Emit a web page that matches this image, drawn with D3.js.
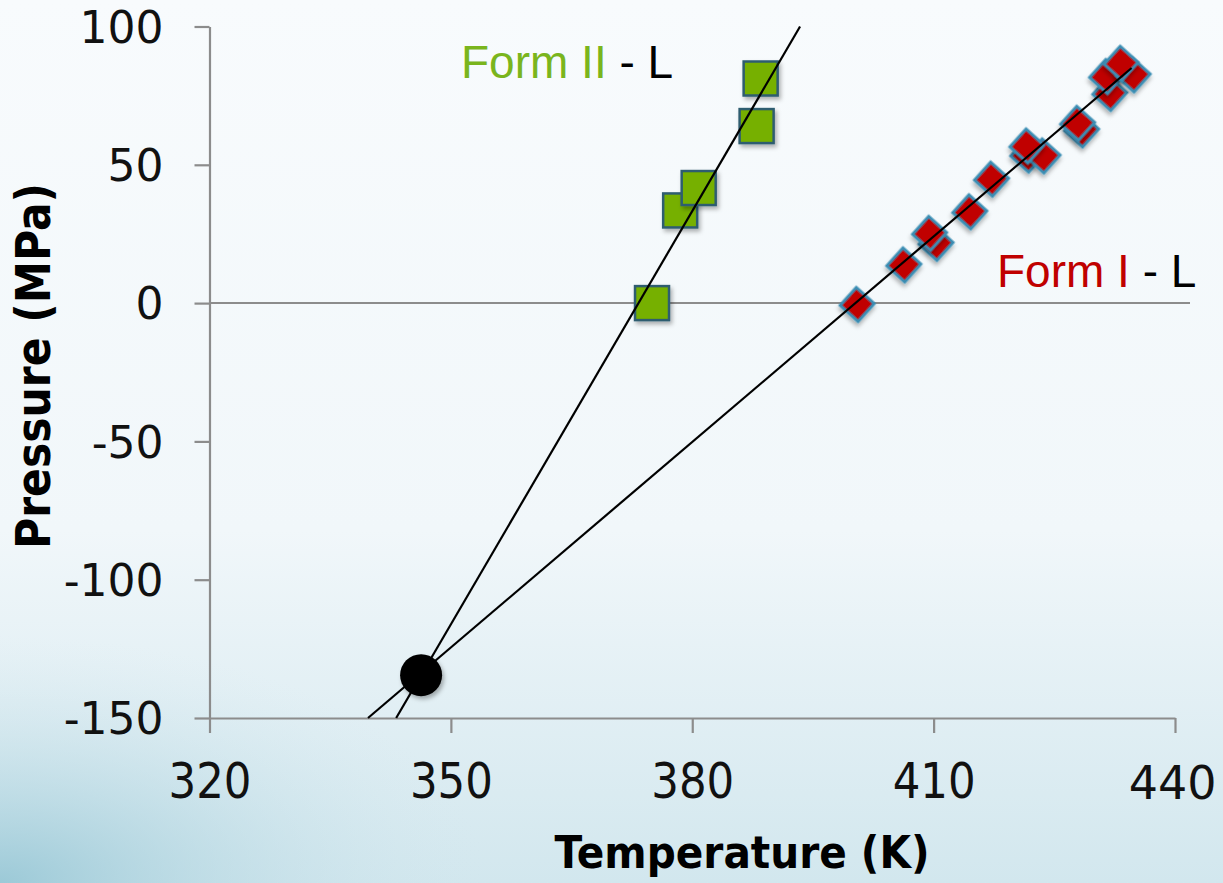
<!DOCTYPE html>
<html>
<head>
<meta charset="utf-8">
<script src="https://cdn.jsdelivr.net/npm/d3@7"></script>
<style>
  html, body { margin: 0; padding: 0; background: #f7fafc; }
  svg { display: block; }
</style>
</head>
<body>
<div id="chart"></div>
<script>
// ---- data ----
const xTicks = [320, 350, 380, 410, 440];
const yTicks = [-150, -100, -50, 0, 50, 100];

// Form II - L (squares)
const formIIT = [375.0, 378.5, 380.8, 388.0, 388.5];
const formIIP = [0, 33.5, 41.6, 64.0, 81.2];

// Form I - L (diamonds)
const formIT = [400.5, 406.3, 410.3, 409.5, 414.5, 417.2, 421.7, 423.6, 421.6, 428.4, 427.9, 431.9, 431.5, 434.8, 433.3];
const formIP = [-0.5, 13.8, 21.6, 25.2, 33.0, 44.8, 53.5, 53.2, 56.8, 62.6, 65.0, 75.8, 81.9, 82.5, 86.7];

// fitted lines, endpoints in (K, MPa)
const formIILine = [[343.2, -150], [393.4, 100]];
const formILine = [[339.7, -150], [434.6, 85.0]];

// intersection point
const triplePoint = [[346.3, -134.5]];

const W = 1223, H = 883;

class PhaseChart {
    constructor(containerId) {
        this.svg = d3.select('#' + containerId)
            .append('svg')
            .attr('width', W)
            .attr('height', H);

        this.x = d3.scaleLinear().domain([320, 440]).range([209.5, 1175]);
        this.y = d3.scaleLinear().domain([-150, 100]).range([718, 26.5]);

        this.drawBackground();
        this.drawAxes();
        this.drawPoints();
        this.drawLines();
        this.drawLabels();
    }

    drawBackground() {
        const defs = this.svg.append('defs');

        const lin = defs.append('linearGradient')
            .attr('id', 'bg').attr('x1', 0).attr('y1', 0).attr('x2', 0).attr('y2', 1);
        lin.append('stop').attr('offset', '0%').attr('stop-color', '#f8fbfd');
        lin.append('stop').attr('offset', '60%').attr('stop-color', '#f1f7fa');
        lin.append('stop').attr('offset', '100%').attr('stop-color', '#d2e7ee');

        const rad = defs.append('radialGradient')
            .attr('id', 'corner').attr('cx', 0).attr('cy', 1).attr('r', 0.4)
            .attr('gradientTransform', 'translate(0,0.3) scale(1,0.7)');
        rad.append('stop').attr('offset', '0%').attr('stop-color', '#92c4d3').attr('stop-opacity', 0.85);
        rad.append('stop').attr('offset', '100%').attr('stop-color', '#d2e7ee').attr('stop-opacity', 0);

        const sh = defs.append('filter').attr('id', 'shadow')
            .attr('x', '-50%').attr('y', '-50%').attr('width', '200%').attr('height', '200%');
        sh.append('feDropShadow')
            .attr('dx', 2).attr('dy', 3).attr('stdDeviation', 2)
            .attr('flood-color', '#000').attr('flood-opacity', 0.3);

        this.svg.append('rect').attr('width', W).attr('height', H).attr('fill', 'url(#bg)');
        this.svg.append('rect').attr('width', W).attr('height', H).attr('fill', 'url(#corner)');
    }

    drawAxes() {
        const x = this.x, y = this.y;

        // zero line
        this.svg.append('line')
            .attr('x1', x.range()[0]).attr('x2', x.range()[1] + 15)
            .attr('y1', y(0)).attr('y2', y(0))
            .attr('stroke', '#8c8c8c').attr('stroke-width', 2);

        const yAxis = this.svg.append('g')
            .attr('transform', `translate(${x(320)},0)`)
            .call(d3.axisLeft(y).tickValues(yTicks).tickFormat(d => String(d))
                .tickSize(15).tickPadding(31).tickSizeOuter(0));
        yAxis.selectAll('text')
            .attr('font-family', 'DejaVu Sans, sans-serif')
            .attr('font-size', 44)
            .attr('fill', '#111')
            .attr('dy', '0.36em');

        const xAxis = this.svg.append('g')
            .attr('transform', `translate(0,${y(-150)})`)
            .call(d3.axisBottom(x).tickValues(xTicks).tickSize(15).tickPadding(30).tickSizeOuter(0));
        xAxis.selectAll('text')
            .attr('font-family', 'DejaVu Sans, sans-serif')
            .attr('font-size', 49)
            .attr('fill', '#111')
            .attr('textLength', 83)
            .attr('lengthAdjust', 'spacingAndGlyphs');
        // last label sits against the right edge
        xAxis.selectAll('.tick text')
            .filter(d => d === 440)
            .attr('textLength', null)
            .attr('lengthAdjust', null)
            .attr('font-size', 46)
            .attr('dy', '0.78em')
            .attr('text-anchor', 'end')
            .attr('x', 41);

        [xAxis, yAxis].forEach(g => {
            g.select('.domain').attr('stroke', '#8c8c8c').attr('stroke-width', 2.2);
            g.selectAll('.tick line').attr('stroke', '#8c8c8c').attr('stroke-width', 2.2);
        });

        // axis titles
        this.svg.append('text')
            .attr('x', 742).attr('y', 868)
            .attr('text-anchor', 'middle')
            .attr('font-family', 'DejaVu Sans, sans-serif')
            .attr('font-weight', 'bold')
            .attr('font-size', 45)
            .attr('textLength', 375)
            .attr('lengthAdjust', 'spacingAndGlyphs')
            .attr('fill', '#000')
            .text('Temperature (K)');

        this.svg.append('text')
            .attr('transform', 'translate(50,366) rotate(-90)')
            .attr('text-anchor', 'middle')
            .attr('font-family', 'DejaVu Sans, sans-serif')
            .attr('font-weight', 'bold')
            .attr('font-size', 48)
            .attr('textLength', 366)
            .attr('lengthAdjust', 'spacingAndGlyphs')
            .attr('fill', '#000')
            .text('Pressure (MPa)');
    }

    drawPoints() {
        const x = this.x, y = this.y;
        const sq = 34, dm = 24;

        this.svg.append('g').selectAll('rect.form2')
            .data(d3.zip(formIIT, formIIP))
            .enter()
            .append('rect')
            .attr('class', 'form2')
            .attr('x', d => x(d[0]) - sq / 2)
            .attr('y', d => y(d[1]) - sq / 2)
            .attr('width', sq).attr('height', sq)
            .attr('fill', '#76b000')
            .attr('stroke', '#2f5d70')
            .attr('stroke-width', 2.5)
            .attr('filter', 'url(#shadow)');

        this.svg.append('g').selectAll('rect.form1')
            .data(d3.zip(formIT, formIP))
            .enter()
            .append('rect')
            .attr('class', 'form1')
            .attr('x', -dm / 2).attr('y', -dm / 2)
            .attr('width', dm).attr('height', dm)
            .attr('transform', d => `translate(${x(d[0])},${y(d[1])}) rotate(42)`)
            .attr('fill', '#c00000')
            .attr('stroke', '#3a8db3')
            .attr('stroke-width', 3)
            .attr('filter', 'url(#shadow)');
    }

    drawLines() {
        const x = this.x, y = this.y;
        const line = d3.line().x(d => x(d[0])).y(d => y(d[1]));

        this.svg.append('g').selectAll('path.fit')
            .data([formIILine, formILine])
            .enter()
            .append('path')
            .attr('class', 'fit')
            .attr('d', line)
            .attr('fill', 'none')
            .attr('stroke', '#000')
            .attr('stroke-width', 2.2);

        this.svg.append('g').selectAll('circle')
            .data(triplePoint)
            .enter()
            .append('circle')
            .attr('cx', d => x(d[0]))
            .attr('cy', d => y(d[1]))
            .attr('r', 21)
            .attr('fill', '#000')
            .attr('filter', 'url(#shadow)');
    }

    drawLabels() {
        const labels = [
            { x: 461, y: 78, name: 'Form II', color: '#7ab51d' },
            { x: 997, y: 287, name: 'Form I', color: '#c00000' }
        ];
        const t = this.svg.append('g').selectAll('text')
            .data(labels)
            .enter()
            .append('text')
            .attr('x', d => d.x).attr('y', d => d.y)
            .attr('font-family', 'Liberation Sans, Arial, sans-serif')
            .attr('font-size', 46);
        t.append('tspan').attr('fill', d => d.color).text(d => d.name);
        t.append('tspan').attr('fill', '#000').text(' - L');
    }
}

new PhaseChart('chart');
</script>
</body>
</html>
